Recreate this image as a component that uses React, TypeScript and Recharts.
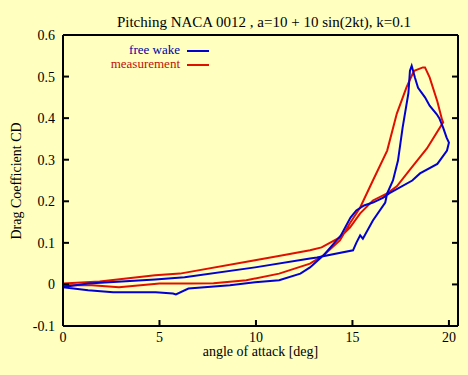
import React from 'react';
import { ComposedChart, Line, XAxis, YAxis } from 'recharts';

const FONT = '"Liberation Serif", "DejaVu Serif", serif';
const BG = '#ffffc0';
const BLUE = '#0000d0';
const RED = '#e01000';

// x ticks / y ticks
const xTicks = [0, 5, 10, 15, 20];
const yTicks = [-0.1, 0, 0.1, 0.2, 0.3, 0.4, 0.5, 0.6];

// free wake (blue) loop: angle of attack and CD
const wakeAlpha = [
  0, 1.3, 2.6, 4.8, 5.7, 5.85, 6.5, 8.65, 9.95, 11.2, 12.3, 12.8, 13.5, 14.4, 14.9, 15.2,
  15.6, 16.06, 16.6, 16.9, 18.1, 18.5, 19.4, 19.9, 20.0, 19.88, 19.7, 19.5, 19.36, 19.0,
  18.76, 18.4, 18.24, 18.07, 17.98, 17.9, 17.6, 17.36, 17.1, 16.8, 16.7, 16.06, 15.54,
  15.4, 15.2, 15.03, 13.16, 12.8, 9.95, 6.3, 4.77, 1.3, 0,
];
const wakeCd = [
  -0.007, -0.014, -0.019, -0.019, -0.022, -0.024, -0.01, -0.002, 0.005, 0.01, 0.026, 0.041,
  0.07, 0.118, 0.161, 0.178, 0.19, 0.197, 0.209, 0.219, 0.25, 0.267, 0.29, 0.322, 0.341,
  0.353, 0.377, 0.4, 0.41, 0.43, 0.45, 0.473, 0.497, 0.526, 0.514, 0.46, 0.377, 0.298,
  0.25, 0.219, 0.197, 0.154, 0.11, 0.118, 0.1, 0.082, 0.065, 0.0625, 0.041, 0.017, 0.012,
  0.002, -0.006,
];

// measurement (red) loop
const measAlpha = [
  0, 1.5, 2.9, 5.0, 6.6, 7.8, 9.5, 11.2, 12.8, 13.5, 14.35, 14.87, 15.4, 16.06, 16.8, 17.3,
  17.8, 18.1, 18.2, 18.65, 18.76, 19.0, 19.4, 19.64, 19.7, 18.86, 17.98, 17.3, 16.8, 16.06,
  15.4, 14.87, 14.35, 13.4, 12.8, 9.95, 6.06, 4.77, 1.9, 0,
];
const measCd = [
  -0.002, -0.002, -0.007, 0.002, 0.002, 0.003, 0.01, 0.026, 0.05, 0.07, 0.106, 0.147, 0.185,
  0.25, 0.322, 0.411, 0.474, 0.505, 0.514, 0.522, 0.522, 0.498, 0.44, 0.397, 0.39, 0.327,
  0.276, 0.236, 0.219, 0.202, 0.171, 0.137, 0.113, 0.089, 0.082, 0.058, 0.026, 0.022, 0.007,
  0.002,
];

const wakeData = wakeAlpha.map((a, i) => ({ a, cd: wakeCd[i] }));
const measData = measAlpha.map((a, i) => ({ a, cd: measCd[i] }));

const BottomTick = (props: any) => {
  const { x, y, payload } = props;
  return (
    <g>
      <line x1={x} y1={y} x2={x} y2={y - 6} stroke="#000" strokeWidth={2} />
      <text
        x={x}
        y={y + 16}
        textAnchor="middle"
        fill="#000"
        style={{ fontFamily: FONT, fontSize: 14 }}
      >
        {payload.value}
      </text>
    </g>
  );
};

const TopTick = (props: any) => {
  const { x, y } = props;
  return <line x1={x} y1={y} x2={x} y2={y + 6} stroke="#000" strokeWidth={2} />;
};

const LeftTick = (props: any) => {
  const { x, y, payload } = props;
  return (
    <g>
      <line x1={x} y1={y} x2={x + 6} y2={y} stroke="#000" strokeWidth={2} />
      <text
        x={x - 8}
        y={y + 5}
        textAnchor="end"
        fill="#000"
        style={{ fontFamily: FONT, fontSize: 14 }}
      >
        {String(payload.value)}
      </text>
    </g>
  );
};

const RightTick = (props: any) => {
  const { x, y } = props;
  return <line x1={x} y1={y} x2={x - 6} y2={y} stroke="#000" strokeWidth={2} />;
};

export default function App() {
  const txt = {
    position: 'absolute' as const,
    fontFamily: FONT,
    whiteSpace: 'nowrap' as const,
    lineHeight: '12px',
  };
  return (
    <div style={{ position: 'absolute', left: 0, top: 0, width: 468, height: 375, background: BG }}>
      <ComposedChart
        width={468}
        height={375}
        margin={{ top: 25, right: 0, bottom: 19, left: 13 }}
      >
        <XAxis
          xAxisId="x"
          dataKey="a"
          type="number"
          domain={[0, 20.47]}
          ticks={xTicks}
          allowDataOverflow
          height={30}
          tickSize={0}
          tickMargin={0}
          tickLine={false}
          axisLine={{ stroke: '#000', strokeWidth: 2 }}
          tick={<BottomTick />}
        />
        <XAxis
          xAxisId="top"
          orientation="top"
          type="number"
          domain={[0, 20.47]}
          ticks={xTicks}
          allowDataOverflow
          height={10}
          tickSize={0}
          tickMargin={0}
          tickLine={false}
          axisLine={{ stroke: '#000', strokeWidth: 2 }}
          tick={<TopTick />}
        />
        <YAxis
          yAxisId="y"
          type="number"
          domain={[-0.1, 0.6]}
          ticks={yTicks}
          allowDataOverflow
          width={50}
          tickSize={0}
          tickMargin={0}
          tickLine={false}
          axisLine={{ stroke: '#000', strokeWidth: 2 }}
          tick={<LeftTick />}
        />
        <YAxis
          yAxisId="right"
          orientation="right"
          type="number"
          domain={[-0.1, 0.6]}
          ticks={yTicks}
          allowDataOverflow
          width={10}
          tickSize={0}
          tickMargin={0}
          tickLine={false}
          axisLine={{ stroke: '#000', strokeWidth: 2 }}
          tick={<RightTick />}
        />
        <Line
          xAxisId="x"
          yAxisId="y"
          data={measData}
          dataKey="cd"
          type="linear"
          stroke={RED}
          strokeWidth={2}
          dot={false}
          isAnimationActive={false}
        />
        <Line
          xAxisId="x"
          yAxisId="y"
          data={wakeData}
          dataKey="cd"
          type="linear"
          stroke={BLUE}
          strokeWidth={2}
          dot={false}
          isAnimationActive={false}
        />
      </ComposedChart>

      {/* title */}
      <div style={{ ...txt, left: 0, width: 528, top: 16, textAlign: 'center', fontSize: 15 }}>
        Pitching NACA 0012 , a=10 + 10 sin(2kt), k=0.1
      </div>

      {/* legend */}
      <div style={{ ...txt, right: 468 - 180, top: 44, fontSize: 13, color: '#0000a0', textAlign: 'right' }}>
        free wake
      </div>
      <div style={{ position: 'absolute', left: 187, top: 50, width: 22, height: 2, background: BLUE }} />
      <div style={{ ...txt, right: 468 - 180, top: 58, fontSize: 13, color: '#c01000', textAlign: 'right' }}>
        measurement
      </div>
      <div style={{ position: 'absolute', left: 187, top: 64, width: 22, height: 2, background: RED }} />

      {/* axis labels */}
      <div style={{ ...txt, left: 63, width: 395, top: 346, textAlign: 'center', fontSize: 14 }}>
        angle of attack [deg]
      </div>
      <div
        style={{
          ...txt,
          left: 17,
          top: 181,
          fontSize: 14,
          transform: 'translate(-50%, -50%) rotate(-90deg)',
        }}
      >
        Drag Coefficient CD
      </div>
    </div>
  );
}
